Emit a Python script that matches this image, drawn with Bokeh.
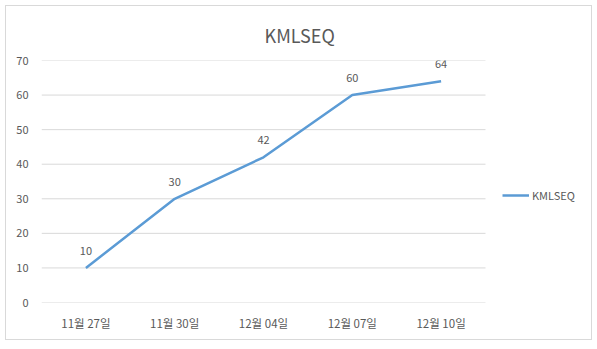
from bokeh.plotting import figure
from bokeh.models import ColumnDataSource, Legend, LegendItem, LabelSet, FixedTicker
from bokeh.embed import file_html
from bokeh.resources import INLINE
from bokeh.core.properties import value

categories = ["11월 27일", "11월 30일", "12월 04일", "12월 07일", "12월 10일"]
values = [10, 30, 42, 60, 64]
series_name = "KMLSEQ"
y_ticks = [0, 10, 20, 30, 40, 50, 60, 70]

idx = list(range(len(categories)))
src = ColumnDataSource(dict(x=idx, y=values, lab=[str(v) for v in values]))

FONT = "Noto Sans CJK KR"
GRAY = "#595959"
BLUE = "#5B9BD5"

# plot area spans the categories (444 px for 5 bands); extra room on the right holds the legend
band_px = 444 / len(categories)
frame_px = 550
x_start = -0.5
x_end = x_start + frame_px / band_px

p = figure(width=587, height=335, x_range=(x_start, x_end), y_range=(0, 70),
           output_backend="svg", toolbar_location=None,
           min_border_left=35, min_border_right=2, min_border_top=54, min_border_bottom=39,
           margin=(5, 5, 5, 5), styles={"border": "1px solid #d9d9d9"})
p.title.text = "KMLSEQ"
p.title.align = "left"
p.title.offset = 223
p.title.text_font = FONT
p.title.text_font_size = "18px"
p.title.text_font_style = "normal"
p.title.text_color = GRAY
p.title.standoff = 26

# horizontal gridlines limited to the category area
p.segment(x0=[x_start] * len(y_ticks), x1=[len(categories) - 0.5] * len(y_ticks),
          y0=y_ticks, y1=y_ticks, line_color="#d9d9d9", line_width=1)

r = p.line("x", "y", source=src, line_color=BLUE, line_width=2.5)

labels = LabelSet(x="x", y="y", text="lab", source=src, y_offset=13, text_align="center",
                  text_font=value(FONT), text_font_size="11px", text_color=GRAY)
p.add_layout(labels)

p.outline_line_color = None
p.xgrid.grid_line_color = None
p.ygrid.grid_line_color = None
p.yaxis.ticker = y_ticks
p.xaxis.ticker = FixedTicker(ticks=idx)
p.xaxis.major_label_overrides = {i: c for i, c in zip(idx, categories)}
for ax in (p.xaxis, p.yaxis):
    ax.axis_line_color = None
    ax.major_tick_line_color = None
    ax.minor_tick_line_color = None
    ax.major_label_text_font = FONT
    ax.major_label_text_color = GRAY
p.xaxis.major_label_text_font_size = "11.5px"
p.yaxis.major_label_text_font_size = "11px"
p.xaxis.major_label_standoff = 6
p.yaxis.major_label_standoff = 7

legend = Legend(items=[LegendItem(label=series_name, renderers=[r])], location=(461, 97),
                border_line_color=None, background_fill_alpha=0, margin=0,
                label_text_font=FONT, label_text_font_size="11px", label_text_color=GRAY,
                glyph_width=27, label_standoff=3, padding=5)
p.add_layout(legend)

open("out.html", "w").write(file_html(p, INLINE))
